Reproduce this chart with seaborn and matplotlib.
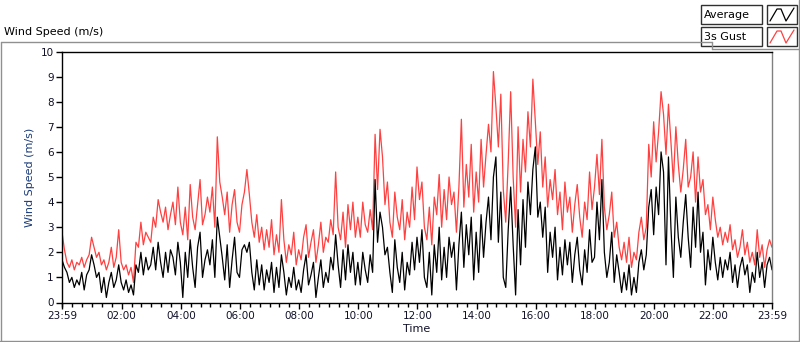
import numpy as np
import pandas as pd
import matplotlib
matplotlib.use("Agg")
import matplotlib.pyplot as plt
from matplotlib.lines import Line2D
from matplotlib.patches import Rectangle
import seaborn as sns

# 5-minute samples from 23:59 (minute 0) to 23:59 (minute 1440)
gust = [
    2.8, 2.1, 1.6, 1.4, 1.7, 1.3, 1.6, 1.5, 1.8, 1.4, 1.7, 1.9,
    2.6, 2.2, 1.8, 2.0, 1.5, 1.7, 1.3, 1.6, 2.2, 1.4, 1.8, 2.9,
    1.6, 1.3, 1.5, 1.1, 1.4, 0.8, 2.4, 2.2, 3.2, 2.3, 2.8, 2.6,
    2.4, 3.4, 3.0, 4.1, 3.6, 3.2, 3.8, 2.9, 3.5, 4.0, 3.1, 4.6,
    3.2, 2.7, 3.8, 2.5, 4.7, 3.4, 2.9, 3.9, 4.9, 3.1, 3.5, 4.2,
    3.6, 4.6, 3.0, 6.6, 4.8, 4.2, 3.5, 4.4, 2.8, 3.9, 4.5, 3.2,
    2.8, 3.9, 4.4, 5.3, 4.3, 3.2, 2.6, 3.5, 2.4, 3.0, 2.1, 2.9,
    2.2, 3.3, 1.9, 2.7, 2.0, 4.1, 2.5, 1.6, 2.3, 1.9, 2.8, 1.5,
    2.1, 1.7, 2.6, 3.1, 1.8, 2.4, 2.9, 1.6, 2.3, 3.2, 2.0, 2.6,
    2.4, 3.3, 2.7, 5.2, 3.0, 2.5, 3.6, 2.2, 3.9, 2.9, 4.0, 2.6,
    3.4, 2.6, 4.0, 3.1, 2.8, 3.7, 2.9, 6.7, 4.5, 6.9, 5.8, 3.9,
    4.8, 3.2, 2.6, 4.4, 3.4, 2.9, 4.1, 2.5, 3.6, 3.0, 4.6, 3.3,
    5.4, 4.1, 4.8, 3.0, 2.5, 3.8, 2.3, 4.2, 3.5, 5.1, 3.0, 4.5,
    3.3, 5.0, 3.9, 4.4, 2.8, 4.6, 7.3, 3.8, 5.5, 4.2, 6.3, 3.6,
    5.2, 4.0, 6.5, 4.6, 5.9, 7.1, 6.0, 9.2, 7.8, 6.2, 8.3, 4.5,
    3.2, 5.6, 8.4, 5.0, 3.0, 7.0, 4.4, 6.5, 5.2, 7.6, 6.2, 8.9,
    7.2, 5.5, 6.8, 4.6, 5.8, 3.8, 4.9, 4.1, 5.3, 3.5, 4.4, 2.9,
    4.8, 3.6, 4.2, 2.8, 3.9, 4.7, 3.4, 2.6, 4.0, 3.3, 5.2, 3.7,
    4.6, 5.9, 4.3, 6.5, 3.8, 2.9, 3.5, 4.4, 2.6, 3.2, 2.2, 1.7,
    2.4, 1.6, 2.6, 1.4, 2.0, 1.7, 2.8, 3.4, 2.5, 3.0, 6.3, 5.0,
    7.2, 5.6, 6.8, 8.4, 7.5, 5.9, 7.9, 6.4, 4.8, 7.0, 5.5, 4.4,
    5.3, 6.5, 4.6, 5.0, 6.0, 4.0, 5.8, 4.4, 4.9, 3.5, 3.9, 2.9,
    4.2, 3.3, 2.6, 3.0, 2.3, 2.8, 2.4, 3.1, 2.1, 2.5, 1.8, 2.2,
    2.9, 1.9, 2.4, 1.6, 2.0, 1.5, 2.9, 1.8, 2.3, 1.4, 2.1, 2.5, 2.2,
]
average = [
    1.7, 1.4, 1.2, 0.8, 1.0, 0.6, 0.9, 0.7, 1.2, 0.5, 1.1, 1.3,
    1.9, 1.5, 1.0, 1.2, 0.4, 1.0, 0.2, 0.8, 1.2, 0.6, 0.9, 1.5,
    0.8, 0.5, 0.9, 0.4, 0.7, 0.3, 1.5, 1.2, 2.0, 1.1, 1.8, 1.3,
    1.5, 2.2, 1.3, 2.4, 1.6, 1.0, 2.0, 1.2, 2.1, 1.8, 1.1, 2.4,
    1.6, 0.2, 2.0, 1.0, 2.5, 1.4, 0.6, 2.2, 2.8, 1.0, 1.7, 2.1,
    1.5, 2.5, 1.0, 3.4, 2.6, 1.8, 0.9, 2.3, 0.6, 1.7, 2.6, 1.2,
    1.0, 2.1, 2.3, 2.0, 2.4, 1.2, 0.5, 1.7, 0.7, 1.5, 0.5, 1.3,
    0.8, 1.6, 0.4, 1.4, 0.6, 1.9, 1.2, 0.3, 1.0, 0.6, 1.4, 0.5,
    0.9, 0.4, 1.3, 1.9, 0.7, 1.1, 1.6, 0.2, 1.0, 1.7, 0.6, 1.2,
    0.8, 1.8, 1.3, 2.7, 1.5, 0.6, 2.1, 0.9, 2.3, 1.2, 2.0, 0.7,
    1.6, 0.7, 2.0, 1.3, 0.8, 1.9, 1.2, 4.9, 2.4, 3.6, 3.0, 1.9,
    2.2, 1.2, 0.4, 2.5, 1.4, 0.8, 2.0, 0.5, 1.6, 1.1, 2.4, 1.3,
    2.6, 1.6, 2.9, 1.0, 0.6, 2.0, 0.3, 2.3, 1.2, 3.0, 0.9, 2.2,
    1.0, 2.6, 1.8, 2.4, 0.5, 2.3, 3.6, 1.4, 3.1, 1.9, 3.4, 0.9,
    2.8, 1.2, 3.5, 1.8, 3.2, 4.2, 2.5, 5.0, 5.8, 2.4, 4.4, 1.0,
    0.6, 2.9, 4.6, 2.3, 0.3, 3.7, 1.5, 4.1, 2.2, 4.8, 3.5, 5.3,
    6.2, 3.4, 4.0, 2.6, 3.8, 1.2, 2.8, 1.8, 3.0, 0.9, 2.2, 1.1,
    2.5, 1.5, 2.4, 0.8, 1.9, 2.6, 1.3, 0.7, 2.1, 1.2, 2.9, 1.6,
    1.8, 4.0, 2.5, 4.9, 2.0, 1.0, 1.6, 2.8, 0.8, 1.9, 1.2, 0.4,
    1.2, 0.5, 1.5, 0.3, 1.0, 0.4, 1.6, 2.1, 1.3, 1.9, 3.8, 4.5,
    2.7, 4.6, 3.5, 6.0, 5.2, 1.5, 5.8, 3.0, 1.0, 4.2, 2.6, 1.8,
    3.2, 4.3, 2.6, 1.4, 3.8, 2.2, 4.4, 2.0, 2.8, 0.7, 2.1, 1.3,
    2.6, 1.6, 0.9, 1.8, 1.0, 1.7, 1.3, 2.0, 0.8, 1.5, 0.6, 1.4,
    1.8, 1.1, 1.5, 0.4, 1.2, 0.8, 2.0, 1.0, 1.6, 0.6, 1.5, 1.8, 1.3,
]
tick_labels = ["23:59", "02:00", "04:00", "06:00", "08:00", "10:00", "12:00",
               "14:00", "16:00", "18:00", "20:00", "22:00", "23:59"]
tick_minutes = [0, 121, 241, 361, 481, 601, 721, 841, 961, 1081, 1201, 1321, 1440]
y_ticks = list(range(0, 11))

minutes = np.arange(len(gust)) * 5
df = pd.DataFrame({"minute": np.concatenate([minutes, minutes]),
                   "speed": gust + average,
                   "series": ["3s Gust"] * len(gust) + ["Average"] * len(average)})

sns.set_theme(style="white")
plt.rcParams["font.family"] = ["DejaVu Sans"]

W, H = 800, 342
fig = plt.figure(figsize=(8, 3.42), dpi=100)
ax = fig.add_axes([62 / W, 1 - 302.5 / H, (772 - 62) / W, (302.5 - 51.5) / H])

sns.lineplot(data=df, x="minute", y="speed", hue="series",
             palette={"3s Gust": "#ff4040", "Average": "#000000"},
             hue_order=["3s Gust", "Average"], linewidth=0.9, ax=ax, legend=False)

ax.set_xlim(0, 1440)
ax.set_ylim(0, 10)
ax.set_xticks(tick_minutes)
ax.set_xticklabels(tick_labels)
ax.set_xticks(np.arange(1, 1440, 20), minor=True)
ax.set_yticks(y_ticks)
ax.tick_params(axis="both", which="major", direction="out", length=4, width=1,
               labelsize=7.5, colors="#000000", pad=2, labelcolor="#101028")
ax.tick_params(axis="x", which="minor", direction="out", length=3, width=1, colors="#000000")
ax.tick_params(bottom=True, left=True)
ax.tick_params(axis="x", which="minor", bottom=True)
for s in ["left", "top", "bottom"]:
    ax.spines[s].set_color("#000000")
    ax.spines[s].set_linewidth(1)
ax.spines["right"].set_color("#808080")
ax.spines["right"].set_linewidth(1)
ax.set_xlabel("Time", fontsize=8, color="#101028", labelpad=2)
ax.set_ylabel("Wind Speed (m/s)", fontsize=8, color="#1a3a78", labelpad=4)

def fx(px):
    return px / W

def fy(py):
    return 1 - py / H

# outer panel frame
frame_color = "#909090"
for (x0, y0, x1, y1) in [(0.5, 42, 712, 42), (712, 42, 712, 49), (712, 49, 799, 49),
                         (799, 0, 799, 341), (0.5, 42, 0.5, 341), (0, 340.5, 799, 340.5)]:
    fig.add_artist(Line2D([fx(x0), fx(x1)], [fy(y0), fy(y1)], color=frame_color, lw=1))

fig.text(fx(4), fy(32), "Wind Speed (m/s)", fontsize=8, color="#000000", va="center", ha="left")

# legend boxes
for (label, color, ytop) in [("Average", "#000000", 5), ("3s Gust", "#ff4040", 27)]:
    fig.add_artist(Rectangle((fx(701), fy(ytop + 19)), fx(61), 19 / H, facecolor="white",
                             edgecolor="#303030", lw=1))
    fig.text(fx(704), fy(ytop + 10), label, fontsize=8, color="#000000", va="center", ha="left")
    fig.add_artist(Rectangle((fx(767), fy(ytop + 19)), fx(30), 19 / H, facecolor="white",
                             edgecolor="#303030", lw=1))
    zx = [770, 777, 781, 786, 794]
    zy = [ytop + 16, ytop + 4, ytop + 4, ytop + 16, ytop + 3]
    fig.add_artist(Line2D([fx(v) for v in zx], [fy(v) for v in zy], color=color, lw=0.9))

fig.savefig("out.png", dpi=100, facecolor="white")
